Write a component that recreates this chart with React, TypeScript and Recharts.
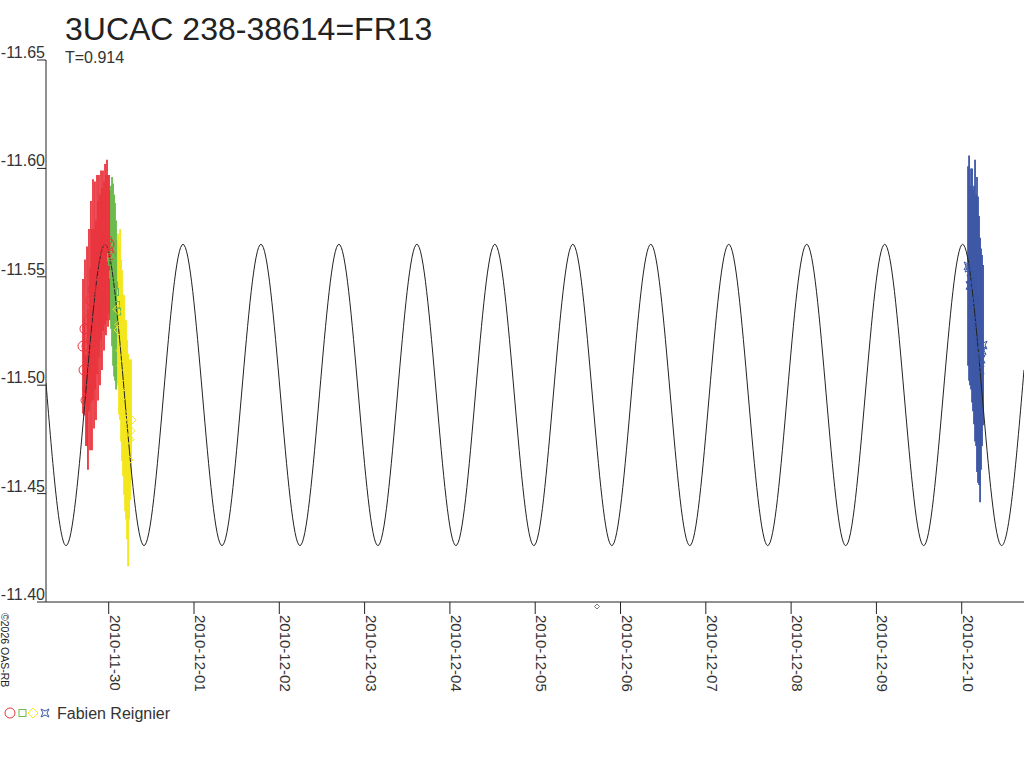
import React from 'react';
import { ComposedChart, Scatter, Line, XAxis, YAxis, ErrorBar } from 'recharts';

// time in days from 2010-11-30 00:00, magnitudes as plotted
const xTicks = [0, 1, 2, 3, 4, 5, 6, 7, 8, 9, 10];
const xTickLabels = [
  '2010-11-30', '2010-12-01', '2010-12-02', '2010-12-03', '2010-12-04', '2010-12-05',
  '2010-12-06', '2010-12-07', '2010-12-08', '2010-12-09', '2010-12-10',
];
const yTicks = [-11.65, -11.6, -11.55, -11.5, -11.45, -11.4];

// fitted light curve, read at its turning points (T=0.914)
const curveT = [
  -0.735, -0.5, -0.043, 0.414, 0.871, 1.328, 1.785, 2.242, 2.699, 3.156, 3.613, 4.07, 4.527, 4.984,
  5.441, 5.898, 6.355, 6.812, 7.269, 7.726, 8.183, 8.64, 9.097, 9.554, 10.011, 10.468, 10.73,
];
const curveMag = [
  -11.501, -11.426, -11.565, -11.426, -11.565, -11.426, -11.565, -11.426, -11.565, -11.426, -11.565,
  -11.426, -11.565, -11.426, -11.565, -11.426, -11.565, -11.426, -11.565, -11.426, -11.565, -11.426,
  -11.565, -11.426, -11.565, -11.426, -11.507,
];

const redT = [
  -0.301, -0.289, -0.278, -0.266, -0.254, -0.243, -0.231, -0.219, -0.208, -0.196, -0.184, -0.172, -0.161, -0.149,
  -0.137, -0.125, -0.114, -0.102, -0.09, -0.079, -0.067, -0.055, -0.043, -0.032, -0.02, -0.008, 0.004, 0.015,
];
const redMag = [
  -11.518, -11.507, -11.526, -11.493, -11.518, -11.498, -11.53, -11.512, -11.539, -11.521, -11.544, -11.526, -11.546, -11.53,
  -11.551, -11.539, -11.555, -11.544, -11.56, -11.549, -11.562, -11.555, -11.565, -11.56, -11.567, -11.562, -11.565, -11.56,
];
const redErr = [
  0.031, 0.021, 0.032, 0.021, 0.046, 0.037, 0.042, 0.042, 0.046, 0.051, 0.051, 0.046, 0.048, 0.046,
  0.046, 0.046, 0.042, 0.044, 0.039, 0.042, 0.037, 0.039, 0.037, 0.037, 0.037, 0.035, 0.032, 0.03,
];

const greenT = [0.027, 0.039, 0.051, 0.063, 0.074, 0.086, 0.098];
const greenMag = [-11.559, -11.557, -11.551, -11.546, -11.543, -11.537, -11.534];
const greenErr = [0.033, 0.039, 0.042, 0.042, 0.041, 0.039, 0.033];

const yellowT = [0.109, 0.121, 0.133, 0.145, 0.156, 0.168, 0.18, 0.192, 0.203, 0.215, 0.227, 0.239, 0.25, 0.262];
const yellowMag = [
  -11.535, -11.5255, -11.528, -11.516, -11.509, -11.5, -11.4955, -11.486, -11.484, -11.475, -11.4655, -11.475, -11.479, -11.484,
];
const yellowErr = [0.035, 0.039, 0.044, 0.042, 0.044, 0.042, 0.046, 0.044, 0.046, 0.046, 0.049, 0.037, 0.032, 0.028];

const blueT = [
  10.074, 10.086, 10.097, 10.109, 10.121, 10.132, 10.144, 10.156, 10.168, 10.179, 10.191, 10.203, 10.215, 10.226,
  10.238, 10.25,
];
const blueMag = [
  -11.555, -11.554, -11.546, -11.549, -11.546, -11.539, -11.537, -11.539, -11.53, -11.528, -11.521, -11.516, -11.507, -11.512,
  -11.516, -11.5185,
];
const blueErr = [
  0.046, 0.052, 0.046, 0.051, 0.054, 0.051, 0.055, 0.065, 0.058, 0.068, 0.066, 0.062, 0.061, 0.051, 0.044, 0.037,
];

const RED = '#e9343d';
const GREEN = '#6abb4c';
const YELLOW = '#f4e61a';
const BLUE = '#3c57a5';
const INK = '#222';
const FONT = '"Liberation Sans", Arial, sans-serif';

const PLOT_LEFT = 46;
const PLOT_BOTTOM = 602;

const toPoints = (t: number[], mag: number[], err: number[]) =>
  t.map((v, i) => ({ t: v, mag: mag[i], err: err[i] }));

const curveData = curveT.map((v, i) => ({ t: v, mag: curveMag[i] }));
const redData = toPoints(redT, redMag, redErr);
const greenData = toPoints(greenT, greenMag, greenErr);
const yellowData = toPoints(yellowT, yellowMag, yellowErr);
const blueData = toPoints(blueT, blueMag, blueErr);

const CircleMark = ({ cx, cy }: any) => <circle cx={cx} cy={cy} r={5} fill="none" stroke={RED} />;
const SquareMark = ({ cx, cy }: any) => (
  <rect x={cx - 3.5} y={cy - 3.5} width={7} height={7} fill="none" stroke={GREEN} />
);
const DiamondMark = ({ cx, cy }: any) => (
  <path d={`M${cx},${cy - 5}L${cx + 5},${cy}L${cx},${cy + 5}L${cx - 5},${cy}Z`} fill="none" stroke={YELLOW} />
);
const StarMark = ({ cx, cy }: any) => (
  <path
    d={`M${cx - 4},${cy - 4}L${cx},${cy - 2}L${cx + 4},${cy - 4}L${cx + 2},${cy}L${cx + 4},${cy + 4}L${cx},${cy + 2}L${cx - 4},${cy + 4}L${cx - 2},${cy}Z`}
    fill="none"
    stroke={BLUE}
  />
);

const YTick = ({ y, payload }: any) => (
  <g>
    <line x1={37} x2={PLOT_LEFT} y1={y} y2={y} stroke={INK} />
    <text x={45} y={y - 2} textAnchor="end" fontSize={16} fill="#333" fontFamily={FONT}>
      {payload.value.toFixed(2)}
    </text>
  </g>
);

const XTick = ({ x, payload }: any) => (
  <g>
    <line x1={x} x2={x} y1={PLOT_BOTTOM} y2={PLOT_BOTTOM + 12} stroke={INK} />
    <text
      x={x + 1}
      y={PLOT_BOTTOM + 13}
      transform={`rotate(90, ${x + 1}, ${PLOT_BOTTOM + 13})`}
      textAnchor="start"
      fontSize={15}
      fill="#333"
      fontFamily={FONT}
    >
      {xTickLabels[xTicks.indexOf(payload.value)]}
    </text>
  </g>
);

export default function App() {
  return (
    <div style={{ position: 'absolute', left: 0, top: 0, width: 1024, height: 768, background: '#fff' }}>
      <ComposedChart width={1024} height={768} margin={{ top: 60, right: 0, bottom: 0, left: 0 }}>
        <XAxis
          type="number"
          dataKey="t"
          domain={[-0.735, 10.73]}
          ticks={xTicks}
          allowDataOverflow
          height={166}
          axisLine={{ stroke: INK }}
          tickLine={false}
          tick={<XTick />}
          interval={0}
        />
        <YAxis
          type="number"
          dataKey="mag"
          domain={[-11.65, -11.4]}
          ticks={yTicks}
          reversed
          allowDataOverflow
          width={PLOT_LEFT}
          axisLine={{ stroke: INK }}
          tickLine={false}
          tick={<YTick />}
          interval={0}
        />
        <Scatter data={redData} dataKey="mag" shape={<CircleMark />} isAnimationActive={false}>
          <ErrorBar dataKey="err" direction="y" width={0} stroke={RED} strokeWidth={1.8} isAnimationActive={false} />
        </Scatter>
        <Scatter data={greenData} dataKey="mag" shape={<SquareMark />} isAnimationActive={false}>
          <ErrorBar dataKey="err" direction="y" width={0} stroke={GREEN} strokeWidth={1.8} isAnimationActive={false} />
        </Scatter>
        <Scatter data={yellowData} dataKey="mag" shape={<DiamondMark />} isAnimationActive={false}>
          <ErrorBar dataKey="err" direction="y" width={0} stroke={YELLOW} strokeWidth={1.8} isAnimationActive={false} />
        </Scatter>
        <Scatter data={blueData} dataKey="mag" shape={<StarMark />} isAnimationActive={false}>
          <ErrorBar dataKey="err" direction="y" width={0} stroke={BLUE} strokeWidth={1.8} isAnimationActive={false} />
        </Scatter>
        <Line
          data={curveData}
          dataKey="mag"
          type="monotone"
          stroke={INK}
          strokeWidth={1}
          dot={false}
          activeDot={false}
          isAnimationActive={false}
        />
      </ComposedChart>
      <svg
        width={1024}
        height={768}
        style={{ position: 'absolute', left: 0, top: 0, pointerEvents: 'none' }}
        fontFamily={FONT}
      >
        <text x={65} y={40} fontSize={32} fill={INK}>3UCAC 238-38614=FR13</text>
        <text x={65} y={63} fontSize={16} fill="#333">T=0.914</text>
        <text x={1} y={613} fontSize={10.5} fill={INK} transform="rotate(90, 1, 613)">
          ©2026 OAS-RB
        </text>
        <path d="M597,604L599.5,606.5L597,609L594.5,606.5Z" fill="none" stroke="#555" strokeWidth={0.8} />
        <circle cx={10} cy={713} r={5} fill="none" stroke={RED} />
        <rect x={19} y={709.5} width={7} height={7} fill="none" stroke={GREEN} />
        <path d="M33,708L38,713L33,718L28,713Z" fill="none" stroke={YELLOW} />
        <path d="M41,709L45,711L49,709L47,713L49,717L45,715L41,717L43,713Z" fill="none" stroke={BLUE} />
        <text x={57} y={719} fontSize={16} fill="#333">Fabien Reignier</text>
      </svg>
    </div>
  );
}
